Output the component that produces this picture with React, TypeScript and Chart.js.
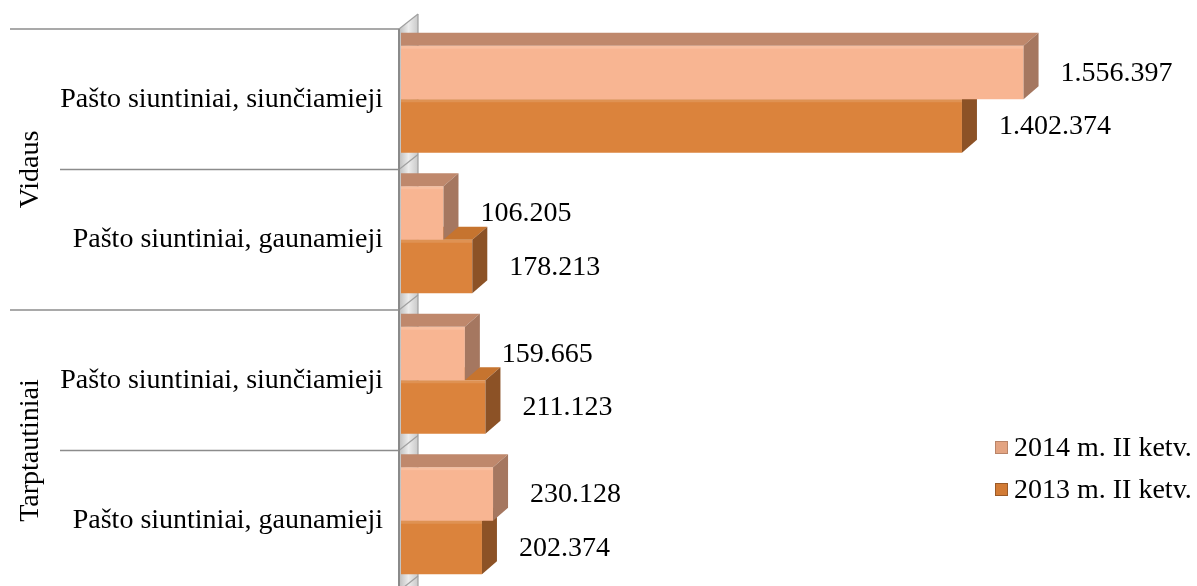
import React, { useEffect, useRef } from "react";
import { Chart, registerables } from "chart.js";

Chart.register(...registerables);

// ---- data ----
const groupNames = ["Vidaus", "Tarptautiniai"];
const groupSizes = [2, 2];
const categories = [
  "Pašto siuntiniai, siunčiamieji",
  "Pašto siuntiniai, gaunamieji",
  "Pašto siuntiniai, siunčiamieji",
  "Pašto siuntiniai, gaunamieji",
];
const seriesNames = ["2014 m. II ketv.", "2013 m. II ketv."];
const values2014 = [1556397, 106205, 159665, 230128];
const values2013 = [1402374, 178213, 211123, 202374];

// ---- styles ----
const FONT = '"Liberation Serif", "Times New Roman", serif';
const frontColors = ["#F8B592", "#DB833C"];
const topColors = ["#BF886C", "#C6742F"];
const sideColors = ["#A57760", "#8C5226"];
const DX = 15;
const DY = 13;

const fmt = (n: number) => String(n).replace(/\B(?=(\d{3})+(?!\d))/g, ".");

const bar3dPlugin = {
  id: "bar3d",
  beforeDatasetsDraw(chart: any) {
    const { ctx, chartArea, scales } = chart;
    const y = scales.y;
    const L = chartArea.left - 2;
    const H = chart.height;
    const band = y.getPixelForValue(1) - y.getPixelForValue(0);
    const bounds: number[] = [];
    for (let i = 0; i <= categories.length; i++) {
      bounds.push(y.getPixelForValue(0) - band / 2 + i * band);
    }
    ctx.save();
    // wall
    const g = ctx.createLinearGradient(L, 0, L + 19, 0);
    g.addColorStop(0, "#bdbdbd");
    g.addColorStop(0.5, "#ececec");
    g.addColorStop(1, "#c9c9c9");
    ctx.fillStyle = g;
    ctx.beginPath();
    ctx.moveTo(L, bounds[0]);
    ctx.lineTo(L + 19, bounds[0] - 15);
    ctx.lineTo(L + 19, H);
    ctx.lineTo(L, H);
    ctx.closePath();
    ctx.fill();
    ctx.strokeStyle = "#a0a0a0";
    ctx.lineWidth = 1.2;
    ctx.beginPath();
    ctx.moveTo(L + 19, bounds[0] - 15);
    ctx.lineTo(L + 19, H);
    ctx.stroke();
    bounds.forEach((b) => {
      ctx.beginPath();
      ctx.moveTo(L, b);
      ctx.lineTo(L + 19, b - 15);
      ctx.stroke();
    });
    ctx.strokeStyle = "#8a8a8a";
    ctx.lineWidth = 2;
    ctx.beginPath();
    ctx.moveTo(L, bounds[0]);
    ctx.lineTo(L, H);
    ctx.stroke();
    // separators
    const groupStarts = new Set<number>();
    let acc = 0;
    groupSizes.forEach((s) => {
      groupStarts.add(acc);
      acc += s;
    });
    groupStarts.add(acc);
    ctx.lineWidth = 1.5;
    ctx.strokeStyle = "#8c8c8c";
    bounds.forEach((b, i) => {
      ctx.beginPath();
      ctx.moveTo(groupStarts.has(i) ? 10 : 60, b);
      ctx.lineTo(L, b);
      ctx.stroke();
    });
    // group labels
    ctx.fillStyle = "#000";
    ctx.font = `28px ${FONT}`;
    ctx.textAlign = "center";
    ctx.textBaseline = "middle";
    let start = 0;
    groupNames.forEach((name, gi) => {
      const end = start + groupSizes[gi];
      const cy = (bounds[start] + bounds[end]) / 2;
      ctx.save();
      ctx.translate(31, cy);
      ctx.rotate(-Math.PI / 2);
      ctx.fillText(name, 0, 0);
      ctx.restore();
      start = end;
    });
    ctx.restore();
  },
  afterDatasetDraw(chart: any, args: any) {
    const { ctx } = chart;
    const di = args.index;
    ctx.save();
    args.meta.data.forEach((el: any) => {
      const p = el.getProps(["x", "y", "base", "height"], true);
      const top = p.y - p.height / 2;
      const bottom = p.y + p.height / 2;
      const left = p.base;
      const right = p.x;
      ctx.fillStyle = topColors[di];
      ctx.beginPath();
      ctx.moveTo(left, top);
      ctx.lineTo(left, top - DY);
      ctx.lineTo(right + DX, top - DY);
      ctx.lineTo(right, top);
      ctx.closePath();
      ctx.fill();
      ctx.fillStyle = sideColors[di];
      ctx.beginPath();
      ctx.moveTo(right, top);
      ctx.lineTo(right + DX, top - DY);
      ctx.lineTo(right + DX, bottom - DY);
      ctx.lineTo(right, bottom);
      ctx.closePath();
      ctx.fill();
      ctx.fillStyle = "rgba(255,255,255,0.12)";
      ctx.fillRect(left, top, right - left, 3);
    });
    ctx.restore();
  },
  afterDatasetsDraw(chart: any) {
    const { ctx } = chart;
    ctx.save();
    ctx.fillStyle = "#000";
    ctx.font = `28px ${FONT}`;
    ctx.textAlign = "left";
    ctx.textBaseline = "middle";
    chart.data.datasets.forEach((ds: any, di: number) => {
      const meta = chart.getDatasetMeta(di);
      meta.data.forEach((el: any, i: number) => {
        const p = el.getProps(["x", "y"], true);
        ctx.fillText(fmt(ds.data[i]), p.x + DX + 22, p.y + 1);
      });
    });
    ctx.restore();
  },
};

export default function App() {
  const ref = useRef<HTMLCanvasElement | null>(null);
  useEffect(() => {
    if (!ref.current) return;
    const chart = new Chart(ref.current, {
      type: "bar",
      data: {
        labels: categories,
        datasets: [
          {
            label: seriesNames[0],
            data: values2014,
            backgroundColor: frontColors[0],
            borderWidth: 0,
            categoryPercentage: 0.762,
            barPercentage: 1,
          },
          {
            label: seriesNames[1],
            data: values2013,
            backgroundColor: frontColors[1],
            borderWidth: 0,
            categoryPercentage: 0.762,
            barPercentage: 1,
          },
        ],
      },
      options: {
        indexAxis: "y",
        responsive: false,
        animation: false,
        devicePixelRatio: 1,
        layout: { padding: { top: 29, bottom: 9, left: 0, right: 0 } },
        plugins: {
          legend: { display: false },
          tooltip: { enabled: false },
        },
        scales: {
          x: { display: false, min: 0, max: 1990000 },
          y: {
            grid: { display: false, drawTicks: false },
            border: { display: false },
            ticks: {
              color: "#000",
              font: { family: FONT, size: 28 },
              padding: 18,
            },
            afterFit(scale: any) {
              scale.width = 401;
              scale.paddingTop = 0;
              scale.paddingBottom = 0;
            },
          },
        },
      },
      plugins: [bar3dPlugin],
    });
    return () => chart.destroy();
  }, []);

  const legendBox = (c: string, border: string) => ({
    display: "inline-block",
    width: 13,
    height: 13,
    marginRight: 6,
    boxSizing: "border-box" as const,
    border: `1px solid ${border}`,
    background: c,
    verticalAlign: "middle",
  });

  return (
    <div
      style={{
        position: "fixed",
        left: 0,
        top: 0,
        width: 1197,
        height: 586,
        overflow: "hidden",
        background: "#fff",
      }}
    >
      <canvas ref={ref} width={1197} height={600} style={{ display: "block" }} />
      <div
        style={{
          position: "absolute",
          left: 995,
          top: 426,
          fontFamily: FONT,
          fontSize: 28,
          lineHeight: "42px",
          color: "#000",
          whiteSpace: "nowrap",
        }}
      >
        {seriesNames.map((n, i) => (
          <div key={n} style={{ display: "flex", alignItems: "center", height: 42 }}>
            <span style={legendBox(i === 0 ? "#E3A482" : "#D27B35", i === 0 ? "#B98468" : "#9A5A28")} />
            <span>{n}</span>
          </div>
        ))}
      </div>
    </div>
  );
}
